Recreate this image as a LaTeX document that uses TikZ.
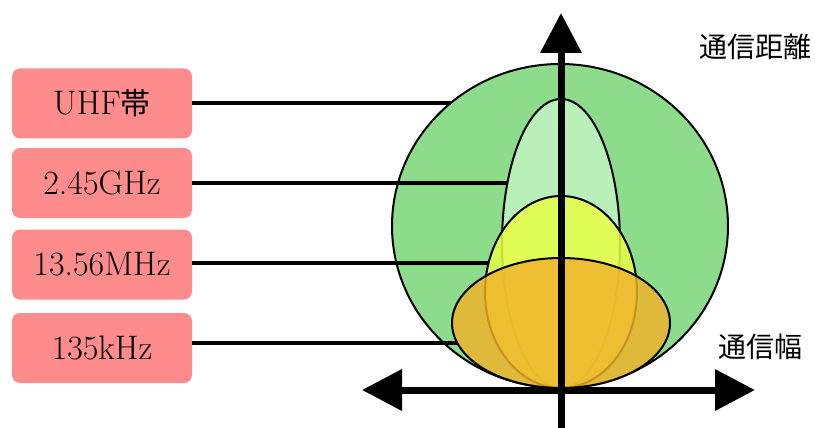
\documentclass[tikz,border=0pt]{standalone}
\usepackage{fontspec}
\newfontfamily\cjk{Noto Sans CJK JP}
\usetikzlibrary{shapes.geometric,arrows.meta}
\definecolor{boxred}{RGB}{255,140,140}
\definecolor{bigg}{RGB}{140,220,140}
\definecolor{tallg}{RGB}{190,242,190}
\definecolor{yel}{RGB}{232,255,70}
\definecolor{ora}{RGB}{242,178,40}
\tikzset{
  lab/.style={rectangle, rounded corners=8pt, fill=boxred, minimum width=180pt, minimum height=70pt, inner sep=0pt, font=\fontsize{34}{40}\selectfont},
  lobe/.style={ellipse, draw=black, line width=2pt, inner sep=0pt},
  conn/.style={line width=4pt},
  axis/.style={line width=7pt, -{Triangle[width=40pt,length=40pt]}},
  axlab/.style={font=\cjk\fontsize{28}{32}\selectfont, inner sep=0pt}
}
\begin{document}
\begin{tikzpicture}[x=1pt,y=-1pt]
\useasboundingbox (0,0) rectangle (815,428);
% lobes
\node[lobe, fill=bigg, minimum width=336pt, minimum height=324pt] (uhf) at (560,226) {};
\node[lobe, fill=tallg, fill opacity=0.9, minimum width=118pt, minimum height=289pt] (ghz) at (561,243.5) {};
\node[lobe, fill=yel, fill opacity=0.85, minimum width=152pt, minimum height=192pt] (mhz) at (561,292) {};
\node[lobe, fill=ora, fill opacity=0.82, minimum width=218pt, minimum height=130pt] (khz) at (561,323) {};
% labels
\node[lab] (l1) at (102,103.5) {UHF{\cjk\fontsize{30}{36}\selectfont 帯}};
\node[lab] (l2) at (102,183) {2.45GHz};
\node[lab] (l3) at (102,264.5) {13.56MHz};
\node[lab] (l4) at (102,348) {135kHz};
% connector ends on lobe borders
\coordinate (e1) at (450.6,103);
\coordinate (e2) at (507.4,183);
\coordinate (e3) at (488.6,263);
\coordinate (e4) at (457.3,343);
\draw[conn] (l1.east |- e1) -- (e1);
\draw[conn] (l2.east |- e2) -- (e2);
\draw[conn] (l3.east |- e3) -- (e3);
\draw[conn] (l4.east |- e4) -- (e4);
% axes
\coordinate (ybot) at (561,428);
\coordinate (ytop) at (561,13);
\coordinate (xl) at (362,390);
\coordinate (xr) at (755,390);
\draw[axis] (ybot) -- (ytop);
\draw[axis, {Triangle[width=40pt,length=40pt]}-{Triangle[width=40pt,length=40pt]}] (xl) -- (xr);
% axis labels
\node[axlab] (dist) at (755,47) {通信距離};
\node[axlab] (wid) at (760,347) {通信幅};
\end{tikzpicture}
\end{document}
